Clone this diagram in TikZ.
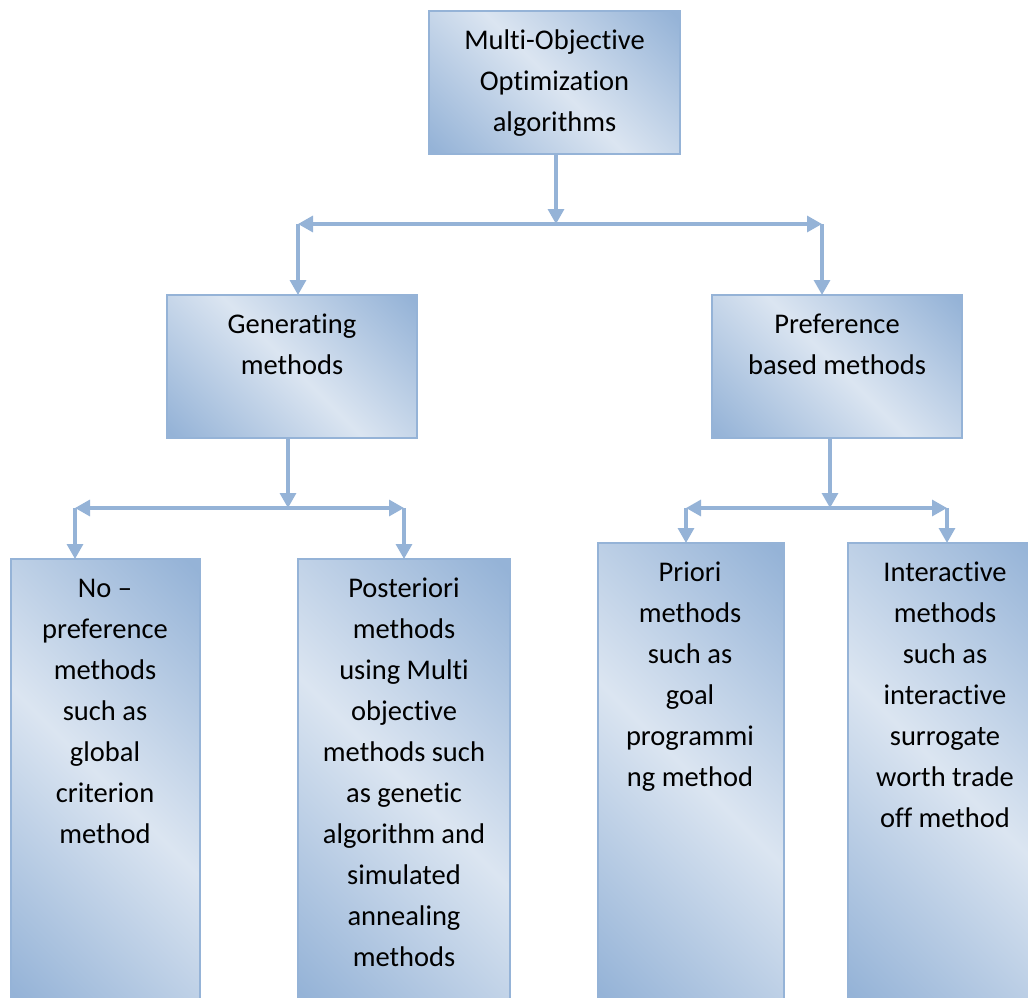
\documentclass[tikz,border=0pt]{standalone}
\usepackage{fontspec}
\setmainfont[Ligatures=NoCommon]{Carlito}
\usetikzlibrary{arrows.meta}

\definecolor{boxdark}{HTML}{95B3D7}
\definecolor{boxlight}{HTML}{DBE5F1}
\definecolor{linkblue}{HTML}{95B3D7}

% dark corners, light diagonal band through the middle
\pgfdeclarehorizontalshading{boxshade}{100bp}{%
  color(0bp)=(boxdark); color(16bp)=(boxdark); color(50bp)=(boxlight);
  color(84bp)=(boxdark); color(100bp)=(boxdark)}

\newcommand{\firstline}{\rule{0pt}{30pt}}

\begin{document}
\begin{tikzpicture}[x=1pt, y=-1pt,
  box/.style={draw=boxdark, line width=1.5pt, shading=boxshade, shading angle=45,
              inner sep=0pt, outer sep=0pt},
  label/.style={anchor=north, inner sep=0pt, align=center,
                font=\fontsize{28.5}{41}\selectfont},
  conn/.style={draw=linkblue, line width=3.2pt},
  tip/.style={-{Triangle[width=16pt,length=15pt]}},
  tips/.style={{Triangle[width=16pt,length=15pt]}-{Triangle[width=16pt,length=15pt]}}]

\path[use as bounding box] (0,0) rectangle (1028,998);
\clip (0,0) rectangle (1028,998);

% boxes
\node[box, minimum width=251pt, minimum height=143pt] (top)    at (554.5,82.5) {};
\node[box, minimum width=250pt, minimum height=143pt] (gen)    at (292,366.5)  {};
\node[box, minimum width=250pt, minimum height=143pt] (pref)   at (837,366.5)  {};
\node[box, minimum width=189pt, minimum height=446pt] (nopref) at (105.5,782)  {};
\node[box, minimum width=212pt, minimum height=446pt] (post)   at (404,782)    {};
\node[box, minimum width=186pt, minimum height=462pt] (priori) at (691,774)    {};
\node[box, minimum width=198pt, minimum height=462pt] (inter)  at (947,774)    {};

% texts
\node[label] (ttop)    at (554.5,19) {\firstline Multi-Objective\\Optimization\\algorithms};
\node[label] (tgen)    at (292,303)  {\firstline Generating\\methods};
\node[label] (tpref)   at (837,303)  {\firstline Preference\\based methods};
\node[label] (tnopref) at (105,567)  {\firstline No –\\preference\\methods\\such as\\global\\criterion\\method};
\node[label] (tpost)   at (404,567)  {\firstline Posteriori\\methods\\using Multi\\objective\\methods such\\as genetic\\algorithm and\\simulated\\annealing\\methods};
\node[label] (tpriori) at (690,551)  {\firstline Priori\\methods\\such as\\goal\\programmi\\ng method};
\node[label] (tinter)  at (945,551)  {\firstline Interactive\\methods\\such as\\interactive\\surrogate\\worth trade\\off method};

% branching points
\coordinate (b1)  at (556,224);
\coordinate (b1l) at (298,224);
\coordinate (b1r) at (822,224);
\coordinate (b2)  at (288,508);
\coordinate (b2l) at (75,508);
\coordinate (b2r) at (404,508);
\coordinate (b3)  at (830,508);
\coordinate (b3l) at (686,508);
\coordinate (b3r) at (947,508);

% connectors
\draw[conn, tip]  (b1 |- top.south) -- (b1);
\draw[conn, tips] (b1l) -- (b1r);
\draw[conn, tip]  (b1l) -- (b1l |- gen.north);
\draw[conn, tip]  (b1r) -- (b1r |- pref.north);

\draw[conn, tip]  (b2 |- gen.south) -- (b2);
\draw[conn, tips] (b2l) -- (b2r);
\draw[conn, tip]  (b2l) -- (b2l |- nopref.north);
\draw[conn, tip]  (b2r) -- (b2r |- post.north);

\draw[conn, tip]  (b3 |- pref.south) -- (b3);
\draw[conn, tips] (b3l) -- (b3r);
\draw[conn, tip]  (b3l) -- (b3l |- priori.north);
\draw[conn, tip]  (b3r) -- (b3r |- inter.north);
\end{tikzpicture}
\end{document}
